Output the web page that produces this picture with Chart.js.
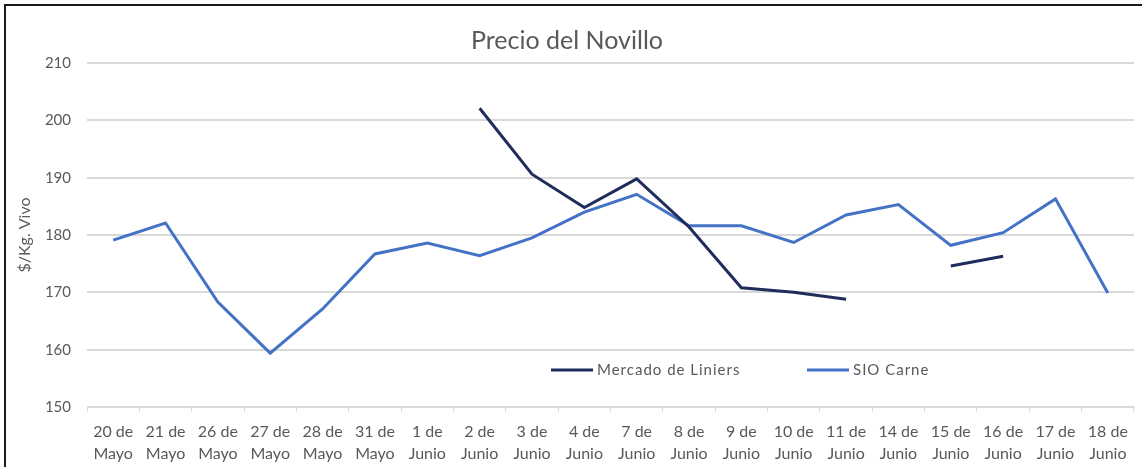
<!DOCTYPE html>
<html>
<head>
    <title>Precio del Novillo</title>
    <script src="https://cdn.jsdelivr.net/npm/chart.js"></script>
    <style>
        body {
            margin: 0;
            background: #fff;
            font-family: Lato, Arial, sans-serif;
        }

        .chart-container {
            position: relative;
            width: 1142px;
            height: 467px;
            overflow: hidden;
        }

        .frame {
            position: absolute;
            left: 4px;
            top: 4px;
            width: 1200px;
            height: 500px;
            border-top: 2px solid #1a1a1a;
            border-left: 2px solid #1a1a1a;
            pointer-events: none;
        }
    </style>
</head>
<body>
    <div class="chart-container">
        <canvas id="novilloChart" width="1142" height="467"></canvas>
        <div class="frame"></div>
    </div>

    <script>
        // Categories (two-line labels)
        var fechas = [
            ['20 de', 'Mayo'], ['21 de', 'Mayo'], ['26 de', 'Mayo'], ['27 de', 'Mayo'],
            ['28 de', 'Mayo'], ['31 de', 'Mayo'], ['1 de', 'Junio'], ['2 de', 'Junio'],
            ['3 de', 'Junio'], ['4 de', 'Junio'], ['7 de', 'Junio'], ['8 de', 'Junio'],
            ['9 de', 'Junio'], ['10 de', 'Junio'], ['11 de', 'Junio'], ['14 de', 'Junio'],
            ['15 de', 'Junio'], ['16 de', 'Junio'], ['17 de', 'Junio'], ['18 de', 'Junio']
        ];

        // Series values ($/Kg. Vivo)
        var mercadoLiniers = [
            null, null, null, null, null, null, null, 202.1,
            190.6, 184.8, 189.8, 181.4, 170.8, 170.0, 168.8, null,
            174.6, 176.3, null, null
        ];
        var sioCarne = [
            179.1, 182.1, 168.3, 159.4, 167.1, 176.7, 178.6, 176.4,
            179.5, 184.0, 187.1, 181.6, 181.6, 178.7, 183.5, 185.3,
            178.2, 180.4, 186.3, 169.9
        ];

        // Y axis ticks
        var yMin = 150;
        var yMax = 210;
        var yStep = 10;

        var textColor = '#595959';
        var gridColor = '#d9d9d9';
        var fontFamily = 'Lato, Arial, sans-serif';

        // Legend drawn inside the plot area, Excel style
        var innerLegend = {
            id: 'innerLegend',
            afterDraw: function (chart) {
                var ctx = chart.ctx;
                var y = 370;
                var items = [
                    { x: 551, ds: chart.data.datasets[0] },
                    { x: 807, ds: chart.data.datasets[1] }
                ];
                ctx.save();
                items.forEach(function (it) {
                    ctx.strokeStyle = it.ds.borderColor;
                    ctx.lineWidth = 3;
                    ctx.beginPath();
                    ctx.moveTo(it.x, y);
                    ctx.lineTo(it.x + 42, y);
                    ctx.stroke();
                    ctx.fillStyle = textColor;
                    ctx.font = '15px ' + fontFamily;
                    ctx.letterSpacing = '1px';
                    ctx.textBaseline = 'middle';
                    ctx.textAlign = 'left';
                    ctx.fillText(it.ds.label, it.x + 46, y);
                });
                ctx.restore();
            }
        };

        var ctx = document.getElementById('novilloChart').getContext('2d');
        var novilloChart = new Chart(ctx, {
            type: 'line',
            data: {
                labels: fechas,
                datasets: [{
                    label: 'Mercado de Liniers',
                    data: mercadoLiniers,
                    borderColor: '#1f2c5c',
                    borderWidth: 3,
                    pointRadius: 0,
                    tension: 0,
                    spanGaps: false
                }, {
                    label: 'SIO Carne',
                    data: sioCarne,
                    borderColor: '#4472c4',
                    borderWidth: 3,
                    pointRadius: 0,
                    tension: 0
                }]
            },
            options: {
                responsive: false,
                animation: false,
                layout: {
                    padding: { top: 26, right: 8, left: 0, bottom: 0 }
                },
                plugins: {
                    legend: { display: false },
                    tooltip: { enabled: false },
                    title: {
                        display: true,
                        text: 'Precio del Novillo',
                        color: textColor,
                        font: { size: 25, weight: 'normal', family: fontFamily },
                        padding: { top: 0, bottom: 7 }
                    }
                },
                scales: {
                    x: {
                        offset: true,
                        grid: {
                            offset: true,
                            drawOnChartArea: false,
                            tickLength: 5,
                            color: gridColor
                        },
                        border: { color: gridColor, width: 1 },
                        ticks: {
                            color: textColor,
                            padding: 9,
                            maxRotation: 0,
                            autoSkip: false,
                            font: { size: 16, lineHeight: 1.375, family: fontFamily }
                        },
                        afterFit: function (scale) { scale.height = 60; }
                    },
                    y: {
                        min: yMin,
                        max: yMax,
                        ticks: {
                            stepSize: yStep,
                            color: textColor,
                            padding: 16,
                            font: { size: 15, family: fontFamily }
                        },
                        grid: {
                            color: gridColor,
                            lineWidth: 2,
                            tickLength: 0
                        },
                        border: { display: false },
                        title: {
                            display: true,
                            text: '$/Kg. Vivo',
                            color: textColor,
                            font: { size: 16, family: fontFamily },
                            padding: { top: 15, bottom: 0 }
                        },
                        afterFit: function (scale) { scale.width = 87; }
                    }
                }
            },
            plugins: [innerLegend]
        });
    </script>
</body>
</html>
